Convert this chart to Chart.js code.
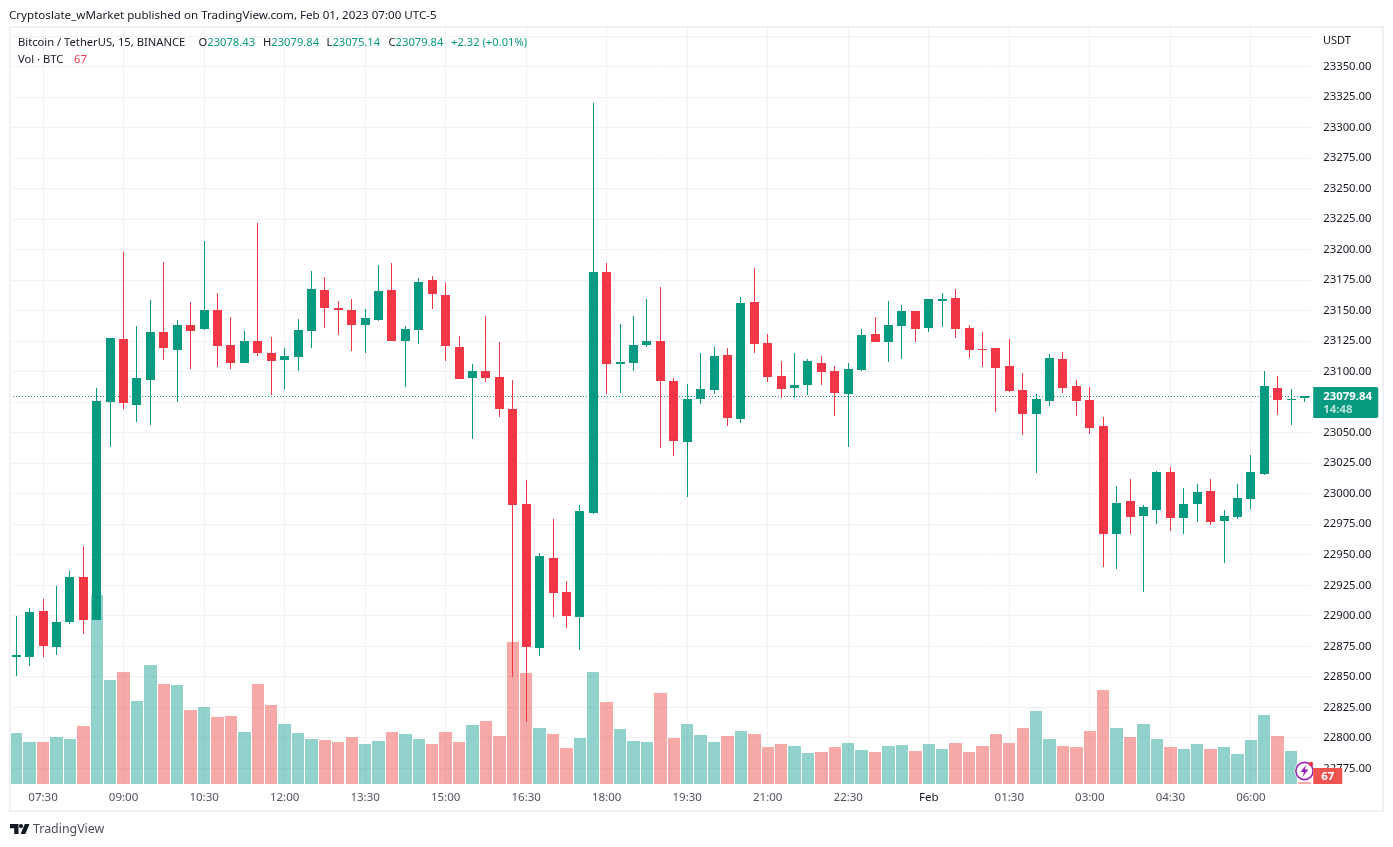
<!DOCTYPE html>
<html>
<head>
<meta charset="utf-8">
<title>Bitcoin / TetherUS</title>
<script src="https://cdn.jsdelivr.net/npm/chart.js@4/dist/chart.umd.min.js"></script>
<style>
  html, body { margin: 0; padding: 0; background: #fff; }
  body { width: 1393px; height: 847px; position: relative; overflow: hidden; font-family: "Noto Sans", sans-serif; color: #131722; }
  canvas { position: absolute; left: 0; top: 0; }
  .frame { position: absolute; left: 9px; top: 26px; width: 1371px; height: 782px; border: 2px solid #f0f0f5; pointer-events: none; }
  .txt { position: absolute; white-space: pre; line-height: 14px; }
  .up { color: #089981; }
  .down { color: #f23645; }
</style>
</head>
<body>
<canvas id="chart" width="1393" height="847"></canvas>
<div class="frame"></div>
<div class="txt" style="left:9px;top:8px;font-size:11.6px">Cryptoslate_wMarket published on TradingView.com, Feb 01, 2023 07:00 UTC-5</div>
<div class="txt" style="left:18px;top:35px;font-size:11.2px">Bitcoin / TetherUS, 15, BINANCE</div>
<div class="txt" style="left:198.5px;top:35px;font-size:11.2px">O<span class="up">23078.43</span></div>
<div class="txt" style="left:263px;top:35px;font-size:11.2px">H<span class="up">23079.84</span></div>
<div class="txt" style="left:326.5px;top:35px;font-size:11.2px">L<span class="up">23075.14</span></div>
<div class="txt" style="left:388.5px;top:35px;font-size:11.2px">C<span class="up">23079.84</span></div>
<div class="txt up" style="left:451px;top:35px;font-size:11.2px">+2.32 (+0.01%)</div>
<div class="txt" style="left:18px;top:52px;font-size:11.2px">Vol · BTC</div>
<div class="txt down" style="left:74px;top:52px;font-size:11.2px">67</div>
<div class="txt" style="left:1323px;top:33px;font-size:11px">USDT</div>
<svg style="position:absolute;left:10px;top:824px" width="20" height="10" viewBox="0 0 20 10">
  <path d="M0 0H8.5V10H4.2V4.2H0Z M14.8 0H19.5L15.3 10H10.6Z" fill="#131722"/>
  <circle cx="11" cy="2.1" r="2.1" fill="#131722"/>
</svg>
<div class="txt" style="left:33px;top:822px;font-size:12.4px;color:#4a4d57">TradingView</div>

<script>
const categories = [
  '07:00', '07:15', '07:30', '07:45', '08:00', '08:15', '08:30', '08:45',
  '09:00', '09:15', '09:30', '09:45', '10:00', '10:15', '10:30', '10:45',
  '11:00', '11:15', '11:30', '11:45', '12:00', '12:15', '12:30', '12:45',
  '13:00', '13:15', '13:30', '13:45', '14:00', '14:15', '14:30', '14:45',
  '15:00', '15:15', '15:30', '15:45', '16:00', '16:15', '16:30', '16:45',
  '17:00', '17:15', '17:30', '17:45', '18:00', '18:15', '18:30', '18:45',
  '19:00', '19:15', '19:30', '19:45', '20:00', '20:15', '20:30', '20:45',
  '21:00', '21:15', '21:30', '21:45', '22:00', '22:15', '22:30', '22:45',
  '23:00', '23:15', '23:30', '23:45', 'Feb', '00:15', '00:30', '00:45',
  '01:00', '01:15', '01:30', '01:45', '02:00', '02:15', '02:30', '02:45',
  '03:00', '03:15', '03:30', '03:45', '04:00', '04:15', '04:30', '04:45',
  '05:00', '05:15', '05:30', '05:45', '06:00', '06:15', '06:30', '06:45',
  '07:00'
];
const axisLabels = ['07:30', '09:00', '10:30', '12:00', '13:30', '15:00', '16:30', '18:00',
  '19:30', '21:00', '22:30', 'Feb', '01:30', '03:00', '04:30', '06:00'];

const opens = [
  22866, 22866.3, 22903.9, 22874.4, 22894.9, 22931.8, 22896.6, 23075.2, 23126.8, 23072.7,
  23093.2, 23132.5, 23117.8, 23138.3, 23135, 23150.5, 23121.9, 23107.1, 23125.1, 23115.3,
  23109.6, 23112.1, 23133.3, 23167, 23152.2, 23150.4, 23138.2, 23142.3, 23166.7, 23125,
  23134.1, 23174.9, 23162.7, 23120, 23094.6, 23100.6, 23095.6, 23069.2, 22991.5, 22873.6,
  22947.3, 22919.4, 22899, 22984.3, 23181.5, 23106.2, 23107.2, 23121.9, 23125, 23092.4,
  23042.4, 23077.6, 23085, 23113.7, 23061.2, 23157.1, 23123.5, 23096.5, 23086.6, 23089.1,
  23107.1, 23100.6, 23081.7, 23101.4, 23130.9, 23124.3, 23137.4, 23149.7, 23135.8, 23157.9,
  23160.4, 23135.8, 23118.6, 23119.4, 23104.7, 23085, 23065.3, 23076, 23110.4, 23088.3,
  23076.8, 23055.5, 22967, 22994.1, 22981.8, 22986.7, 23017.8, 22980.1, 22991.6, 23002.3,
  22977.7, 22981, 22995.7, 23016.2, 23086.6, 23076.8, 23078.43
];
const highs = [
  22899.8, 22906.4, 22913.8, 22924.4, 22936.7, 22957.2, 23086.6, 23127.6, 23198.1, 23137.4,
  23158.7, 23189.9, 23142.4, 23157.1, 23207.1, 23164.5, 23144.8, 23133.3, 23221.8, 23128.4,
  23119.4, 23143.2, 23182.5, 23177.6, 23157.9, 23159.5, 23151.4, 23187.4, 23189, 23137.3,
  23176.8, 23178.3, 23172.7, 23129.1, 23106.2, 23145.4, 23124.1, 23093.1, 23011.2, 22951.4,
  22979.3, 22928.5, 22990.5, 23320, 23189, 23138.8, 23145.4, 23159.5, 23169.2, 23094.6,
  23089.9, 23115.3, 23120.2, 23119.4, 23161.2, 23185, 23130.9, 23108.8, 23115.3, 23110.4,
  23112.9, 23104.7, 23107.1, 23135, 23144.8, 23157.9, 23154.6, 23149.7, 23159.6, 23164.5,
  23167.7, 23138.3, 23132.5, 23119.4, 23126.8, 23098.9, 23081.7, 23114.5, 23116.1, 23093.2,
  23087.5, 23062.9, 23006.3, 23012.1, 22990.8, 23018.6, 23021.9, 23004.7, 23008, 23012.1,
  22986.7, 23008, 23031.7, 23100.6, 23096.5, 23085.8, 23079.84
];
const lows = [
  22850.7, 22858.9, 22866.3, 22867.9, 22893.3, 22885.1, 22896.6, 23038.3, 23069.4, 23058.8,
  23056.3, 23109.6, 23075.2, 23102.2, 23134.2, 23103.8, 23102.2, 23107.1, 23112.9, 23080.9,
  23085.8, 23100.6, 23119.4, 23135.8, 23130.1, 23116.9, 23115.3, 23141.3, 23125, 23087.4,
  23122.5, 23151.4, 23108.7, 23094, 23044.8, 23091.5, 23062.6, 22850.1, 22813.3, 22867,
  22899, 22889.9, 22872, 22983.3, 23081.8, 23082.4, 23100.6, 23120, 23037.3, 23031,
  22997.3, 23073.5, 23081.7, 23055.5, 23058, 23115.3, 23091.6, 23078.4, 23078.4, 23080.9,
  23089.1, 23063.7, 23038.3, 23100.6, 23124.3, 23107.9, 23110.4, 23124.3, 23132.5, 23136.6,
  23127.6, 23111.2, 23103.9, 23067, 23083.4, 23048.1, 23017, 23071.9, 23082.5, 23063.7,
  23049, 22940, 22938.4, 22967, 22919.5, 22975.2, 22969.5, 22967, 22976.9, 22974.4,
  22943.3, 22979.3, 22987.5, 23015.4, 23064.5, 23056.3, 23075.14
];
const closes = [
  22867.5, 22903.1, 22875.3, 22894.9, 22931.8, 22896.6, 23076, 23127.6, 23074.4, 23094.8,
  23132.5, 23119.4, 23138.3, 23133.3, 23150.5, 23121.1, 23107.1, 23125.1, 23115.3, 23108.8,
  23112.9, 23134.2, 23167.8, 23152.2, 23150.5, 23138.2, 23143.8, 23166.1, 23125, 23134.8,
  23173.3, 23163.6, 23121, 23094, 23100.6, 23094.6, 23069.2, 22990.5, 22874.2, 22948.9,
  22918.5, 22899.6, 22985.9, 23181.5, 23106.2, 23107.8, 23121.9, 23125, 23092.4, 23043.2,
  23077.6, 23085.8, 23112.9, 23062, 23156.3, 23122.7, 23095.7, 23085.8, 23089.1, 23108.8,
  23099.7, 23082.6, 23102.2, 23130.1, 23124.3, 23138.3, 23149.7, 23135, 23159.6, 23159.6,
  23135, 23117.8, 23117.8, 23103, 23084.2, 23065.3, 23077.6, 23111.2, 23086.6, 23076,
  23053.9, 22967, 22992.4, 22981, 22989.1, 23017.8, 22980.1, 22991.6, 23001.4, 22976.9,
  22981.8, 22996.5, 23017.8, 23088.3, 23076.8, 23077.6, 23079.84
];
const volumes = [
  1470, 1209, 1209, 1354, 1296, 1673, 5472, 3007, 3239, 2398,
  3442, 2891, 2862, 2137, 2224, 1934, 1963, 1499, 2891, 2282,
  1731, 1470, 1296, 1267, 1209, 1354, 1151, 1238, 1499, 1441,
  1296, 1151, 1499, 1209, 1702, 1827, 1392, 4118, 3219, 1624,
  1450, 1044, 1334, 3248, 2378, 1595, 1247, 1218, 2639, 1334,
  1740, 1421, 1218, 1392, 1537, 1450, 1073, 1160, 1102, 899,
  928, 1073, 1189, 986, 928, 1102, 1131, 957, 1160, 1015,
  1189, 928, 1102, 1450, 1189, 1624, 2117, 1305, 1102, 1073,
  1537, 2726, 1624, 1363, 1740, 1305, 1073, 1015, 1160, 1015,
  1073, 870, 1276, 2001, 1392, 957, 67
];

const upColour = '#089981';
const downColour = '#f23645';
const upVolColour = 'rgba(38, 166, 154, 0.5)';
const downVolColour = 'rgba(239, 83, 80, 0.5)';
const gridColour = '#f1f1f4';
const lastClose = closes[closes.length - 1];

const candleColours = closes.map((c, i) => (c >= opens[i] ? upColour : downColour));
// the volume of the bar still forming is drawn red although its candle is green
const volumeColours = closes.map((c, i) => (c >= opens[i] && i < closes.length - 1 ? upVolColour : downVolColour));

// candles come out blurry on fractional pixels, so snap the bars to whole ones
const snapBars = {
  id: 'snapBars',
  afterDatasetsUpdate(chart) {
    chart.data.datasets.forEach((ds, d) => {
      chart.getDatasetMeta(d).data.forEach(bar => {
        if (ds.label === 'Volume') {
          const left = Math.round(bar.x - 6.2);
          const right = Math.round(bar.x + 6.2);
          bar.x = (left + right) / 2;
          bar.width = right - left;
        } else {
          bar.x = Math.floor(bar.x) + 0.5;
        }
        const top = Math.round(Math.min(bar.y, bar.base));
        const bottom = Math.round(Math.max(bar.y, bar.base));
        bar.y = top;
        bar.base = Math.max(bottom, top + 1);
      });
    });
  }
};

const priceLine = {
  id: 'priceLine',
  beforeDatasetsDraw(chart) {
    const { ctx, chartArea, scales } = chart;
    const y = Math.round(scales.y.getPixelForValue(lastClose)) + 0.5;
    ctx.save();
    ctx.strokeStyle = upColour;
    ctx.lineWidth = 1;
    ctx.setLineDash([1, 2]);
    ctx.beginPath();
    ctx.moveTo(Math.ceil(chartArea.left), y);
    ctx.lineTo(chartArea.right, y);
    ctx.stroke();
    ctx.restore();
  }
};

const priceTags = {
  id: 'priceTags',
  afterDraw(chart) {
    const { ctx, chartArea, scales } = chart;
    const x = chartArea.right + 2;
    const y = Math.round(scales.y.getPixelForValue(lastClose));

    ctx.save();
    ctx.fillStyle = upColour;
    ctx.beginPath();
    ctx.roundRect(x, y - 9, 65, 31, [0, 2, 2, 0]);
    ctx.fill();
    ctx.textBaseline = 'middle';
    ctx.textAlign = 'left';
    ctx.fillStyle = '#fff';
    ctx.font = 'bold 11.4px "Noto Sans"';
    ctx.fillText(lastClose.toFixed(2), x + 10, y + 0.5);
    ctx.fillStyle = 'rgba(255, 255, 255, 0.7)';
    ctx.font = 'bold 11.4px "Noto Sans"';
    ctx.fillText('14:48', x + 10, y + 14);

    // lightning badge
    const bottom = chartArea.bottom;
    ctx.beginPath();
    ctx.arc(1304.5, bottom - 13, 10, 0, Math.PI * 2);
    ctx.fillStyle = '#fff';
    ctx.fill();
    ctx.beginPath();
    ctx.arc(1304.5, bottom - 13, 8.6, 0, Math.PI * 2);
    ctx.strokeStyle = '#9c27b0';
    ctx.lineWidth = 1.6;
    ctx.stroke();
    ctx.fillStyle = '#9c27b0';
    ctx.beginPath();
    ctx.moveTo(1306, bottom - 19);
    ctx.lineTo(1300.5, bottom - 12);
    ctx.lineTo(1304, bottom - 12);
    ctx.lineTo(1302.5, bottom - 7);
    ctx.lineTo(1308.5, bottom - 14.5);
    ctx.lineTo(1305, bottom - 14.5);
    ctx.closePath();
    ctx.fill();
    ctx.fillStyle = '#f23645';
    ctx.beginPath();
    ctx.arc(1311, bottom - 20, 2.2, 0, Math.PI * 2);
    ctx.fill();

    // last volume tag
    ctx.fillStyle = '#ef5350';
    ctx.fillRect(x, bottom - 16, 29, 16);
    ctx.fillStyle = '#fff';
    ctx.textAlign = 'center';
    ctx.font = 'bold 11.4px "Noto Sans"';
    ctx.fillText(String(volumes[volumes.length - 1]), x + 14.5, bottom - 7.5);
    ctx.restore();
  }
};

new Chart(document.getElementById('chart').getContext('2d'), {
  type: 'bar',
  data: {
    labels: categories,
    datasets: [
      {
        label: 'Bodies',
        data: opens.map((o, i) => [o, closes[i]]),
        backgroundColor: candleColours,
        barThickness: 9,
        grouped: false,
        inflateAmount: 0,
        borderWidth: 0,
        order: 1
      },
      {
        label: 'Wicks',
        data: lows.map((l, i) => [l, highs[i]]),
        backgroundColor: candleColours,
        barThickness: 1,
        grouped: false,
        inflateAmount: 0,
        borderWidth: 0,
        order: 2
      },
      {
        label: 'Volume',
        data: volumes,
        yAxisID: 'yVol',
        backgroundColor: volumeColours,
        barThickness: 12.4,
        grouped: false,
        inflateAmount: 0,
        borderWidth: 0,
        order: 3
      }
    ]
  },
  options: {
    responsive: false,
    animation: false,
    events: [],
    layout: { padding: { left: 9.5, right: 9, top: 28, bottom: 37 } },
    plugins: { legend: { display: false }, tooltip: { enabled: false } },
    scales: {
      x: {
        type: 'category',
        offset: true,
        grid: { color: gridColour, offset: false, drawTicks: false },
        border: { display: false },
        afterBuildTicks: scale => {
          scale.ticks = scale.ticks.filter(t => axisLabels.includes(categories[t.value]));
        },
        afterFit: scale => { scale.height = 26; },
        ticks: {
          autoSkip: false,
          maxRotation: 0,
          padding: 7,
          color: ctx => (ctx.tick.label === 'Feb' ? '#131722' : '#50535e'),
          font: { family: 'Noto Sans', size: 11.5 }
        }
      },
      y: {
        position: 'right',
        min: 22762.2,
        max: 23381.6,
        grid: { color: gridColour, drawTicks: false },
        border: { display: false },
        afterFit: scale => { scale.width = 72.76; },
        ticks: {
          stepSize: 25,
          includeBounds: false,
          autoSkip: false,
          padding: 12,
          color: '#131722',
          font: { family: 'Noto Sans', size: 11.3 },
          callback: v => (v > 23350 ? '' : v.toFixed(2))
        }
      },
      yVol: {
        display: false,
        min: 0,
        max: 21924
      }
    }
  },
  plugins: [snapBars, priceLine, priceTags]
});
</script>
</body>
</html>
